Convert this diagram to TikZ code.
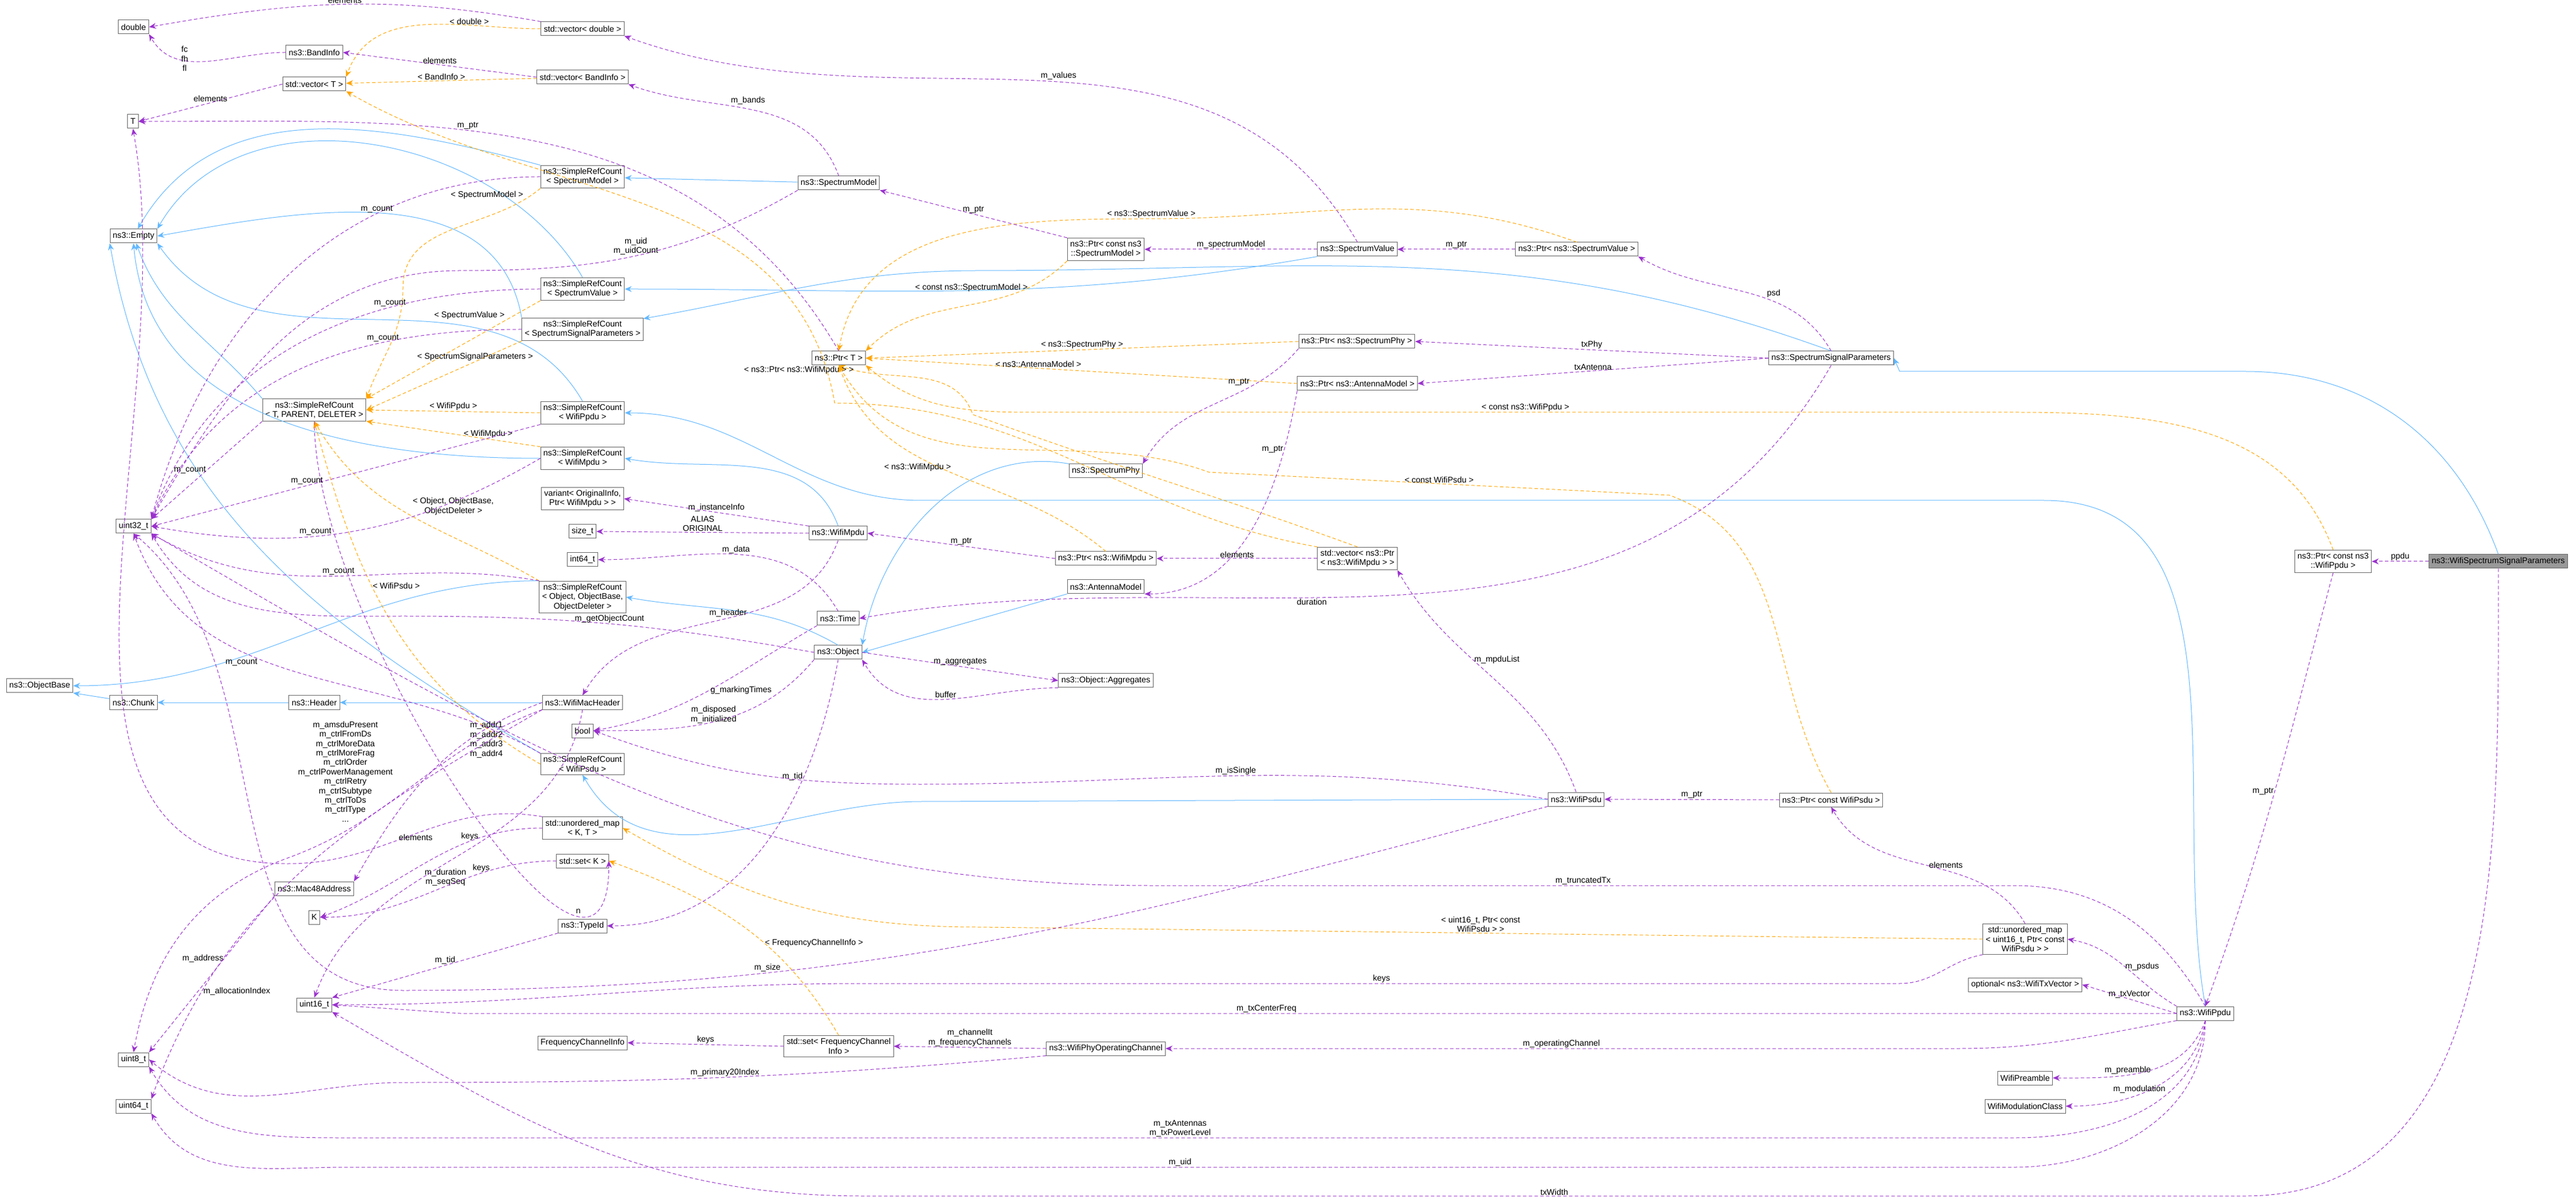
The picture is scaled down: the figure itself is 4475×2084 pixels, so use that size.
\documentclass[tikz,border=0pt]{standalone}
\usepackage{fontspec}
\setmainfont{Liberation Sans}
\usetikzlibrary{arrows.meta}
\definecolor{mem}{HTML}{9A32CD}
\definecolor{tpl}{HTML}{FFA500}
\definecolor{inh}{HTML}{63B8FF}
\begin{document}
\begin{tikzpicture}[x=0.25pt,y=-0.25pt,
  box/.style={draw=black!60,line width=0.25pt,fill=white,font=\fontsize{3.6}{4.1}\selectfont,inner sep=1.2pt,align=center,minimum height=6pt},
  lbl/.style={font=\fontsize{3.6}{4.1}\selectfont,align=center,inner sep=0.3pt},
  mm/.style={draw=mem,dash pattern=on 1.5pt off 1pt,line width=0.25pt,-{Stealth[length=3pt,width=2.5pt]}},
  tp/.style={draw=tpl,dash pattern=on 1.5pt off 1pt,line width=0.25pt,-{Stealth[length=3pt,width=2.5pt]}},
  ih/.style={draw=inh,line width=0.25pt,-{Stealth[length=3pt,width=2.5pt]}}]
\fill[white] (0,0) rectangle (4475,2084);
\useasboundingbox (0,0) rectangle (4475,2084);
% nodes
\node[box] (dbl) at (232,47) {double};
\node[box] (vecdbl) at (1012,50) {std::vector< double >};
\node[box] (band) at (546,91) {ns3::BandInfo};
\node[box] (vecband) at (1012,134) {std::vector< BandInfo >};
\node[box] (vecT) at (546,146) {std::vector< T >};
\node[box] (T) at (231,211) {T};
\node[box] (empty) at (232,410) {ns3::Empty};
\node[box] (srcSM) at (1012,307) {ns3::SimpleRefCount\\< SpectrumModel >};
\node[box] (srcSV) at (1012,502) {ns3::SimpleRefCount\\< SpectrumValue >};
\node[box] (srcSSP) at (1012,572) {ns3::SimpleRefCount\\< SpectrumSignalParameters >};
\node[box] (srcTPD) at (546,712) {ns3::SimpleRefCount\\< T, PARENT, DELETER >};
\node[box] (srcPpdu) at (1012,717) {ns3::SimpleRefCount\\< WifiPpdu >};
\node[box] (srcMpdu) at (1012,796) {ns3::SimpleRefCount\\< WifiMpdu >};
\node[box] (variant) at (1012,866) {variant< OriginalInfo,\\Ptr< WifiMpdu > >};
\node[box] (sizet) at (1012,923) {size\_t};
\node[box] (int64) at (1012,972) {int64\_t};
\node[box] (srcObj) at (1012,1037) {ns3::SimpleRefCount\\< Object, ObjectBase,\\ObjectDeleter >};
\node[box] (u32) at (232,914) {uint32\_t};
\node[box] (objbase) at (69,1191) {ns3::ObjectBase};
\node[box] (chunk) at (232,1220) {ns3::Chunk};
\node[box] (header) at (546,1220) {ns3::Header};
\node[box] (mac) at (1012,1220) {ns3::WifiMacHeader};
\node[box] (bool) at (1012,1269) {bool};
\node[box] (srcPsdu) at (1012,1327) {ns3::SimpleRefCount\\< WifiPsdu >};
\node[box] (umapKT) at (1012,1438) {std::unordered\_map\\< K, T >};
\node[box] (setK) at (1012,1495) {std::set< K >};
\node[box] (mac48) at (546,1543) {ns3::Mac48Address};
\node[box] (K) at (546,1593) {K};
\node[box] (typeid) at (1012,1608) {ns3::TypeId};
\node[box] (u16) at (546,1745) {uint16\_t};
\node[box] (fci) at (1012,1811) {FrequencyChannelInfo};
\node[box] (u8) at (232,1840) {uint8\_t};
\node[box] (u64) at (232,1921) {uint64\_t};
\node[box] (SM) at (1457,318) {ns3::SpectrumModel};
\node[box] (ptrT) at (1457,622) {ns3::Ptr< T >};
\node[box] (ptrSM) at (1921,433) {ns3::Ptr< const ns3\\::SpectrumModel >};
\node[box] (SV) at (2358,433) {ns3::SpectrumValue};
\node[box] (ptrSV) at (2739,433) {ns3::Ptr< ns3::SpectrumValue >};
\node[box] (ptrPhy) at (2357,593) {ns3::Ptr< ns3::SpectrumPhy >};
\node[box] (ptrAnt) at (2358,666) {ns3::Ptr< ns3::AntennaModel >};
\node[box] (phy) at (1921,818) {ns3::SpectrumPhy};
\node[box] (mpdu) at (1456,926) {ns3::WifiMpdu};
\node[box] (ptrMpdu) at (1921,970) {ns3::Ptr< ns3::WifiMpdu >};
\node[box] (ant) at (1921,1019) {ns3::AntennaModel};
\node[box] (vecMpdu) at (2358,970) {std::vector< ns3::Ptr\\< ns3::WifiMpdu > >};
\node[box] (time) at (1456,1074) {ns3::Time};
\node[box] (obj) at (1456,1133) {ns3::Object};
\node[box] (aggr) at (1921,1182) {ns3::Object::Aggregates};
\node[box] (psdu) at (2738,1388) {ns3::WifiPsdu};
\node[box] (setFci) at (1457,1817) {std::set< FrequencyChannel\\Info >};
\node[box] (opch) at (1921,1821) {ns3::WifiPhyOperatingChannel};
\node[box] (SSP) at (3181,622) {ns3::SpectrumSignalParameters};
\node[box] (ptrPpdu) at (4053,975) {ns3::Ptr< const ns3\\::WifiPpdu >};
\node[box,fill=black!40] (wssp) at (4340,975) {ns3::WifiSpectrumSignalParameters};
\node[box] (ptrPsdu) at (3181,1389) {ns3::Ptr< const WifiPsdu >};
\node[box] (umapPsdu) at (3518,1631) {std::unordered\_map\\< uint16\_t, Ptr< const\\WifiPsdu > >};
\node[box] (optTx) at (3518,1710) {optional< ns3::WifiTxVector >};
\node[box] (ppdu) at (3831,1760) {ns3::WifiPpdu};
\node[box] (preamble) at (3518,1872) {WifiPreamble};
\node[box] (modcls) at (3518,1921) {WifiModulationClass};
% inheritance
\draw[ih] (srcSM.north west) to[out=165,in=60] (empty);
\draw[ih] (SM) -- (srcSM);
\draw[ih] (srcSV.north) to[out=120,in=60] (empty.north east);
\draw[ih] (SV.south west) to[out=190,in=0] (srcSV);
\draw[ih] (srcSSP.north west) to[out=100,in=10] (empty.east);
\draw[ih] (SSP.north) to[out=160,in=0] (1700,470) to[out=180,in=10] (srcSSP);
\draw[ih] (srcTPD.north west) to[out=130,in=-70] (empty);
\draw[ih] (srcPpdu.north) to[out=120,in=-55] (empty.south east);
\draw[ih] (ppdu.north) to[out=100,in=0] (3550,869) -- (1600,869) to[out=180,in=0] (srcPpdu.east);
\draw[ih] (srcMpdu.west) to[out=180,in=-85] (empty.south);
\draw[ih] (mpdu.north) to[out=110,in=-10] (srcMpdu.east);
\draw[ih] (srcObj.north west) to[out=180,in=0] (objbase.east);
\draw[ih] (obj.north) to[out=150,in=-10] (srcObj.east);
\draw[ih] (phy.north west) to[out=170,in=80] (obj.north east);
\draw[ih] (ant.south west) -- (obj.east);
\draw[ih] (chunk) -- (objbase.south east);
\draw[ih] (header) -- (chunk);
\draw[ih] (mac) -- (header);
\draw[ih] (srcPsdu.north west) to[out=150,in=-80] (empty.south west);
\draw[ih] (psdu.west) -- (1600,1392) to[out=180,in=-60] (srcPsdu.south);
\draw[ih] (wssp.north) to[out=110,in=0] (3900,645) -- (3300,645) -- (SSP.east);
% templates
\draw[tp] (vecdbl.west) to[out=180,in=70] node[lbl,pos=0.3,above]{< double >} (vecT.north east);
\draw[tp] (vecband) -- node[lbl,above]{< BandInfo >} (vecT);
\draw[tp] (vecMpdu.north) to[out=160,in=-20] (1690,720) to[out=110,in=-20] node[lbl,pos=0.9,left]{< ns3::Ptr< ns3::WifiMpdu > >} (ptrT.south);
\draw[tp] (vecMpdu.north west) to[out=170,in=0] (1450,700) to[out=100,in=-30] (vecT.south east);
\draw[tp] (srcSM.south west) to[out=-140,in=90] node[lbl,pos=0.1,above left]{< SpectrumModel >} (700,500) to[out=-90,in=70] (srcTPD.north east);
\draw[tp] (srcSV.south west) -- node[lbl,pos=0.2,above left]{< SpectrumValue >} (srcTPD.north east);
\draw[tp] (srcSSP.south west) -- node[lbl,pos=0.3,above]{< SpectrumSignalParameters >} (srcTPD.east);
\draw[tp] (srcPpdu.west) -- node[lbl,above]{< WifiPpdu >} (srcTPD.east);
\draw[tp] (srcMpdu.north west) -- node[lbl,above,pos=0.3]{< WifiMpdu >} (srcTPD.south east);
\draw[tp] (srcObj.north west) to[out=150,in=-60] node[lbl,pos=0.5,above right]{< Object, ObjectBase,\\ObjectDeleter >} (srcTPD.south);
\draw[tp] (srcPsdu.west) to[out=150,in=-75] node[lbl,pos=0.6,right]{< WifiPsdu >} (srcTPD.south);
\draw[tp] (ptrSM.south west) to[out=-135,in=45] node[lbl,pos=0.2,left]{< const ns3::SpectrumModel >} (ptrT.north east);
\draw[tp] (ptrSV.north) to[out=160,in=0] (2000,380) to[out=180,in=80] node[lbl,pos=0,above]{< ns3::SpectrumValue >} (ptrT.north);
\draw[tp] (ptrPhy.west) -- node[lbl,above]{< ns3::SpectrumPhy >} (ptrT.east);
\draw[tp] (ptrAnt.west) -- node[lbl,above,pos=0.6]{< ns3::AntennaModel >} (ptrT.east);
\draw[tp] (ptrPpdu.north) to[out=110,in=0] (3500,716) -- node[lbl,above]{< const ns3::WifiPpdu >} (1800,716) to[out=180,in=-40] (ptrT.south east);
\draw[tp] (ptrMpdu.north) to[out=140,in=-70] node[lbl,pos=0.5,above left]{< ns3::WifiMpdu >} (ptrT.south);
\draw[tp] (ptrPsdu.north) to[out=120,in=-20] (2900,860) -- node[lbl,above]{< const WifiPsdu >} (2100,820) to[out=160,in=-60] (ptrT.south);
\draw[tp] (umapPsdu.west) -- node[lbl,above]{< uint16\_t, Ptr< const\\WifiPsdu > >} (1700,1610) to[out=180,in=-30] (umapKT.east);
\draw[tp] (setFci.north) to[out=120,in=-20] node[lbl,pos=0.4,right]{< FrequencyChannelInfo >} (setK.east);
% members
\draw[mm] (vecdbl.north west) to[out=170,in=10] node[lbl,above]{elements} (dbl.east);
\draw[mm] (band.west) to[out=180,in=-60] node[lbl,pos=0.7,right]{fc\\fh\\fl} (dbl.south east);
\draw[mm] (vecband.west) -- node[lbl,above]{elements} (band.east);
\draw[mm] (vecT.west) -- node[lbl,above]{elements} (T.east);
\draw[mm] (ptrT.north) to[out=120,in=0] node[lbl,pos=0.6,above]{m\_ptr} (T.east);
\draw[mm] (SM.north) to[out=110,in=-20] node[lbl,pos=0.6,above right]{m\_bands} (vecband.south east);
\draw[mm] (SV.north) to[out=120,in=-20] node[lbl,pos=0.5,above right]{m\_values} (vecdbl.south east);
\draw[mm] (SM.south west) to[out=-150,in=0] node[lbl,above]{m\_uid\\m\_uidCount} (800,470) to[out=180,in=60] (u32.north east);
\draw[mm] (srcSM.west) to[out=180,in=75] node[lbl,pos=0.3,above]{m\_count} (u32.north east);
\draw[mm] (srcSV.west) to[out=180,in=70] node[lbl,pos=0.3,above]{m\_count} (u32.north east);
\draw[mm] (srcSSP.west) to[out=180,in=65] node[lbl,pos=0.3,above]{m\_count} (u32.north east);
\draw[mm] (srcTPD.south west) -- node[lbl,left]{m\_count} (u32.north east);
\draw[mm] (srcPpdu.south west) -- node[lbl,pos=0.6,above]{m\_count} (u32.east);
\draw[mm] (srcMpdu.west) to[out=-150,in=-10] node[lbl,pos=0.6,above]{m\_count} (u32.east);
\draw[mm] (srcObj.north west) to[out=170,in=-30] node[lbl,pos=0.5,above]{m\_count} (u32.south east);
\draw[mm] (obj.west) to[out=170,in=0] node[lbl,pos=0.5,above]{m\_getObjectCount} (700,1070) to[out=180,in=-60] (u32.south east);
\draw[mm] (srcPsdu.north west) to[out=150,in=-70] node[lbl,pos=0.6,below left]{m\_count} (u32.south);
\draw[mm] (ptrSM.north west) -- node[lbl,above]{m\_ptr} (SM.south east);
\draw[mm] (SV) -- node[lbl,above]{m\_spectrumModel} (ptrSM);
\draw[mm] (ptrSV) -- node[lbl,above]{m\_ptr} (SV);
\draw[mm] (SSP.north) to[out=120,in=-30] node[lbl,pos=0.4,above right]{psd} (ptrSV.south east);
\draw[mm] (SSP.west) -- node[lbl,above]{txPhy} (ptrPhy.east);
\draw[mm] (SSP.west) -- node[lbl,above]{txAntenna} (ptrAnt.east);
\draw[mm] (SSP.south) to[out=-120,in=10] node[lbl,pos=0.6,below]{duration} (time.east);
\draw[mm] (ptrPhy.south west) to[out=-130,in=60] node[lbl,pos=0.3,above left]{m\_ptr} (phy.north east);
\draw[mm] (ptrAnt.south west) to[out=-100,in=0] node[lbl,pos=0.2,left]{m\_ptr} (ant.south east);
\draw[mm] (mpdu.north west) -- node[lbl,above]{m\_instanceInfo} (variant.east);
\draw[mm] (mpdu.west) -- node[lbl,above]{ALIAS\\ORIGINAL} (sizet.east);
\draw[mm] (time.north) to[out=120,in=0] node[lbl,above]{m\_data} (int64.east);
\draw[mm] (mpdu.south) to[out=-110,in=60] node[lbl,pos=0.4,left]{m\_header} (mac.north);
\draw[mm] (time.south west) to[out=-150,in=10] node[lbl,pos=0.5,right]{g\_markingTimes} (bool.east);
\draw[mm] (obj.south west) to[out=-130,in=0] node[lbl,pos=0.4,left]{m\_disposed\\m\_initialized} (bool.east);
\draw[mm] (obj.east) -- node[lbl,above]{m\_aggregates} (aggr.west);
\draw[mm] (aggr.south west) to[out=180,in=-60] node[lbl,pos=0.5,above]{buffer} (obj.south east);
\draw[mm] (obj.south) to[out=-100,in=0] node[lbl,pos=0.3,left]{m\_tid} (typeid.east);
\draw[mm] (ptrMpdu.west) -- node[lbl,above]{m\_ptr} (mpdu.east);
\draw[mm] (vecMpdu.west) -- node[lbl,above]{elements} (ptrMpdu.east);
\draw[mm] (psdu.north) to[out=110,in=-60] node[lbl,pos=0.6,right]{m\_mpduList} (vecMpdu.south east);
\draw[mm] (psdu.west) to[out=170,in=0] node[lbl,above]{m\_isSingle} (1600,1362) to[out=180,in=-20] (bool.east);
\draw[mm] (psdu.south west) to[out=-165,in=0] node[lbl,pos=0.7,above]{m\_size} (700,1720) to[out=180,in=-40] (u32.south);
\draw[mm] (ptrPsdu.west) -- node[lbl,above]{m\_ptr} (psdu.east);
\draw[mm] (mac.south west) to[out=-160,in=20] (500,1490) to[out=-160,in=80] (u8.north);
\node[lbl] at (600,1340) {m\_amsduPresent\\m\_ctrlFromDs\\m\_ctrlMoreData\\m\_ctrlMoreFrag\\m\_ctrlOrder\\m\_ctrlPowerManagement\\m\_ctrlRetry\\m\_ctrlSubtype\\m\_ctrlToDs\\m\_ctrlType\\...};
\draw[mm] (mac.west) to[out=-160,in=60] node[lbl,pos=0.3,right]{m\_addr1\\m\_addr2\\m\_addr3\\m\_addr4} (mac48.north east);
\draw[mm] (mac.south) to[out=-100,in=70] node[lbl,pos=0.6,right]{m\_duration\\m\_seqSeq} (u16.north);
\draw[mm] (mac48.south west) -- node[lbl,pos=0.4,left]{m\_address} (u8.north east);
\draw[mm] (mac.south west) to[out=-150,in=70] node[lbl,pos=0.8,right]{m\_allocationIndex} (u64.north east);
\draw[mm] (umapKT.west) to[out=180,in=20] node[lbl,pos=0.3,above]{keys} (K.east);
\draw[mm] (setK.west) to[out=180,in=0] node[lbl,pos=0.3,above]{keys} (K.east);
\draw[mm] (umapKT.north west) to[out=170,in=0] node[lbl,pos=0.5,below]{elements} (500,1500) to[out=180,in=-80] (T.south);
\draw[mm] (srcTPD.south) to[out=-90,in=-90] node[lbl,pos=0.8,above]{n} (setK.east);
\draw[mm] (typeid.south west) -- node[lbl,above]{m\_tid} (u16.north east);
\draw[mm] (ppdu.north west) to[out=150,in=-10] node[lbl,right]{m\_psdus} (umapPsdu.east);
\draw[mm] (umapPsdu.north) to[out=120,in=-60] node[lbl,right]{elements} (ptrPsdu.south);
\draw[mm] (umapPsdu.south west) to[out=-170,in=0] (3300,1708) -- node[lbl,above]{keys} (1500,1708) to[out=180,in=0] (u16.east);
\draw[mm] (ppdu.west) -- node[lbl,pos=0.5,above]{m\_txVector} (optTx.east);
\draw[mm] (ppdu.west) -- (3600,1760) -- node[lbl,above]{m\_txCenterFreq} (800,1760) -- (u16.east);
\draw[mm] (ppdu.south west) to[out=-170,in=0] (3400,1821) -- node[lbl,above]{m\_operatingChannel} (opch.east);
\draw[mm] (ppdu.south) to[out=-110,in=0] node[lbl,pos=0.6,above]{m\_preamble} (preamble.east);
\draw[mm] (ppdu.south) to[out=-100,in=0] node[lbl,pos=0.6,above]{m\_modulation} (modcls.east);
\draw[mm] (ppdu.south) to[out=-95,in=0] (3500,1976) -- node[lbl,above]{m\_txAntennas\\m\_txPowerLevel} (600,1976) to[out=180,in=-60] (u8.south east);
\draw[mm] (ppdu.south) to[out=-90,in=0] (3500,2027) -- node[lbl,above]{m\_uid} (600,2027) to[out=180,in=-60] (u64.south east);
\draw[mm] (ppdu.north) to[out=120,in=0] (3500,1538) -- node[lbl,above]{m\_truncatedTx} (2000,1538) to[out=180,in=-30] (u32.south east);
\draw[mm] (opch.west) -- node[lbl,above]{m\_channelIt\\m\_frequencyChannels} (setFci.east);
\draw[mm] (opch.south west) to[out=-175,in=0] node[lbl,pos=0.5,above]{m\_primary20Index} (700,1880) to[out=180,in=-40] (u8.east);
\draw[mm] (setFci.west) -- node[lbl,above]{keys} (fci.east);
\draw[mm] (ptrPpdu.south) to[out=-105,in=70] node[lbl,pos=0.5,left]{m\_ptr} (ppdu.north);
\draw[mm] (wssp.west) -- node[lbl,above]{ppdu} (ptrPpdu.east);
\draw[mm] (wssp.south) to[out=-90,in=0] (3900,2077) -- node[lbl,above]{txWidth} (1500,2077) to[out=180,in=-30] (u16.south east);
\end{tikzpicture}
\end{document}
